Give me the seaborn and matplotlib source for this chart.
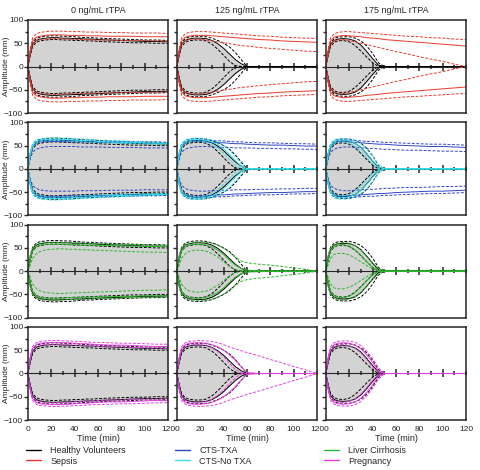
import numpy as np
import pandas as pd
import matplotlib
matplotlib.use("Agg")
import matplotlib.pyplot as plt
from matplotlib.lines import Line2D
from matplotlib.ticker import MultipleLocator
import seaborn as sns

# time points (min)
T = [0, 2, 4, 7, 10, 15, 20, 25, 30, 35, 40, 45, 50, 55, 60, 70, 80, 90, 100, 110, 120]

concs = ["0 ng/mL rTPA", "125 ng/mL rTPA", "175 ng/mL rTPA"]

# healthy volunteers (reference, grey)
hv0_mid = [0, 30, 48, 56, 59, 61, 62, 62, 61, 61, 60, 60, 59, 59, 58, 57, 56, 55, 54, 54, 53]
hv0_lo = [0, 24, 43, 52, 55, 57, 58, 58, 57, 57, 56, 56, 55, 55, 54, 53, 52, 51, 51, 50, 50]
hv0_hi = [0, 34, 52, 60, 63, 65, 66, 66, 65, 65, 64, 63, 62, 62, 61, 60, 59, 58, 57, 57, 56]
hv125_mid = [0, 30, 48, 56, 59, 61, 61, 60, 56, 49, 39, 27, 15, 6, 0, 0, 0, 0, 0, 0, 0]
hv125_lo = [0, 24, 43, 52, 55, 57, 57, 55, 48, 37, 24, 11, 2, 0, 0, 0, 0, 0, 0, 0, 0]
hv125_hi = [0, 34, 52, 60, 63, 65, 65, 64, 61, 56, 50, 42, 30, 15, 0, 0, 0, 0, 0, 0, 0]
hv175_mid = [0, 30, 48, 56, 59, 60, 59, 55, 46, 32, 17, 3, 0, 0, 0, 0, 0, 0, 0, 0, 0]
hv175_lo = [0, 24, 43, 52, 55, 56, 53, 45, 33, 20, 8, 0, 0, 0, 0, 0, 0, 0, 0, 0, 0]
hv175_hi = [0, 34, 52, 60, 63, 64, 64, 61, 55, 44, 28, 8, 0, 0, 0, 0, 0, 0, 0, 0, 0]

# sepsis
sep0_hi = [0, 40, 62, 70, 73, 75, 76, 76, 76, 75, 75, 75, 74, 74, 74, 73, 73, 72, 72, 72, 71]
sep0_mid = [0, 35, 55, 63, 65, 67, 68, 68, 68, 67, 67, 67, 66, 66, 66, 65, 65, 65, 64, 64, 64]
sep0_lo = [0, 28, 47, 55, 58, 59, 60, 60, 59, 59, 58, 58, 58, 57, 57, 57, 56, 56, 56, 55, 55]
sep125_hi = [0, 40, 62, 70, 73, 75, 75, 75, 74, 73, 72, 71, 70, 69, 68, 66, 65, 63, 62, 61, 60]
sep125_mid = [0, 35, 55, 63, 65, 67, 67, 67, 66, 65, 64, 63, 62, 61, 60, 58, 57, 55, 54, 53, 52]
sep125_lo = [0, 28, 47, 55, 58, 59, 59, 57, 55, 53, 51, 49, 47, 45, 44, 41, 39, 37, 35, 33, 32]
sep175_hi = [0, 40, 62, 70, 73, 75, 75, 74, 73, 72, 71, 70, 69, 68, 67, 65, 64, 62, 61, 59, 58]
sep175_mid = [0, 35, 55, 63, 65, 67, 66, 65, 64, 62, 61, 60, 58, 57, 56, 54, 52, 50, 48, 46, 44]
sep175_lo = [0, 28, 47, 55, 57, 58, 56, 53, 50, 47, 44, 41, 38, 35, 32, 27, 21, 16, 11, 5, 0]

# CTS-TXA
txa0_hi = [0, 34, 52, 59, 61, 62, 62, 62, 62, 61, 61, 61, 60, 60, 60, 59, 59, 58, 58, 58, 57]
txa0_mid = [0, 30, 48, 55, 58, 59, 59, 59, 59, 58, 58, 58, 58, 57, 57, 57, 56, 56, 56, 55, 55]
txa0_lo = [0, 22, 36, 42, 45, 47, 48, 48, 48, 48, 48, 47, 47, 47, 47, 46, 46, 46, 45, 45, 45]
txa125_hi = [0, 34, 52, 59, 61, 62, 62, 62, 61, 60, 60, 59, 58, 58, 57, 56, 56, 55, 54, 54, 53]
txa125_mid = [0, 30, 48, 55, 58, 59, 59, 58, 57, 56, 56, 55, 54, 54, 53, 52, 51, 51, 50, 49, 49]
txa125_lo = [0, 22, 36, 42, 45, 47, 48, 48, 47, 47, 46, 46, 45, 45, 45, 44, 44, 43, 43, 42, 42]
txa175_hi = [0, 34, 52, 59, 61, 62, 62, 61, 60, 59, 59, 58, 57, 57, 56, 55, 54, 53, 53, 52, 51]
txa175_mid = [0, 30, 48, 55, 58, 59, 58, 57, 56, 55, 54, 53, 53, 52, 51, 50, 49, 48, 48, 47, 46]
txa175_lo = [0, 22, 36, 42, 45, 47, 47, 46, 45, 44, 44, 43, 42, 42, 41, 40, 40, 39, 38, 38, 37]

# CTS-No TXA
notxa0_hi = [0, 36, 55, 62, 65, 66, 67, 67, 66, 66, 65, 64, 64, 63, 62, 61, 60, 59, 58, 57, 56]
notxa0_mid = [0, 32, 51, 59, 62, 63, 64, 64, 63, 63, 62, 61, 61, 60, 59, 58, 57, 57, 56, 55, 55]
notxa0_lo = [0, 28, 47, 55, 58, 60, 61, 61, 60, 60, 59, 58, 58, 57, 56, 56, 55, 54, 54, 53, 53]
notxa125_hi = [0, 36, 55, 62, 65, 66, 66, 64, 62, 58, 51, 40, 26, 12, 0, 0, 0, 0, 0, 0, 0]
notxa125_mid = [0, 32, 51, 59, 62, 63, 63, 61, 58, 52, 43, 31, 18, 6, 0, 0, 0, 0, 0, 0, 0]
notxa125_lo = [0, 28, 47, 55, 58, 60, 60, 57, 52, 44, 33, 20, 8, 1, 0, 0, 0, 0, 0, 0, 0]
notxa175_hi = [0, 36, 55, 62, 65, 65, 64, 60, 53, 42, 27, 9, 0, 0, 0, 0, 0, 0, 0, 0, 0]
notxa175_mid = [0, 32, 51, 59, 62, 62, 60, 55, 46, 33, 18, 4, 0, 0, 0, 0, 0, 0, 0, 0, 0]
notxa175_lo = [0, 28, 47, 55, 58, 58, 55, 48, 37, 23, 10, 1, 0, 0, 0, 0, 0, 0, 0, 0, 0]

# liver cirrhosis
liv0_hi = [0, 30, 50, 57, 60, 62, 62, 62, 62, 61, 61, 60, 60, 59, 59, 58, 58, 57, 57, 56, 56]
liv0_mid = [0, 24, 44, 52, 56, 58, 58, 58, 58, 57, 57, 56, 56, 56, 55, 55, 54, 54, 53, 53, 53]
liv0_lo = [0, 14, 28, 37, 42, 46, 47, 48, 48, 47, 47, 46, 46, 45, 45, 44, 43, 42, 41, 41, 40]
liv125_hi = [0, 30, 50, 57, 60, 62, 63, 62, 60, 56, 49, 40, 30, 22, 18, 15, 13, 10, 7, 4, 0]
liv125_mid = [0, 24, 44, 52, 56, 58, 58, 56, 52, 45, 36, 24, 13, 6, 2, 1, 0, 0, 0, 0, 0]
liv125_lo = [0, 14, 28, 37, 42, 45, 45, 43, 38, 30, 20, 10, 3, 0, 0, 0, 0, 0, 0, 0, 0]
liv175_hi = [0, 30, 50, 57, 60, 62, 60, 55, 45, 32, 18, 6, 0, 0, 0, 0, 0, 0, 0, 0, 0]
liv175_mid = [0, 24, 44, 52, 56, 57, 54, 46, 34, 20, 8, 1, 0, 0, 0, 0, 0, 0, 0, 0, 0]
liv175_lo = [0, 14, 28, 36, 38, 38, 35, 28, 20, 12, 5, 1, 0, 0, 0, 0, 0, 0, 0, 0, 0]

# pregnancy
preg0_hi = [0, 38, 58, 66, 69, 70, 71, 71, 70, 70, 69, 69, 68, 67, 67, 66, 65, 65, 64, 63, 63]
preg0_mid = [0, 34, 54, 62, 65, 66, 67, 67, 66, 66, 65, 64, 64, 63, 62, 61, 61, 60, 59, 58, 58]
preg0_lo = [0, 30, 50, 58, 61, 62, 63, 63, 62, 62, 61, 60, 60, 59, 58, 57, 57, 56, 55, 55, 54]
preg125_hi = [0, 38, 58, 66, 69, 70, 71, 70, 69, 66, 62, 57, 53, 49, 45, 38, 30, 23, 15, 8, 0]
preg125_mid = [0, 34, 54, 62, 65, 66, 66, 65, 62, 57, 50, 40, 28, 14, 2, 0, 0, 0, 0, 0, 0]
preg125_lo = [0, 30, 50, 58, 61, 62, 62, 60, 55, 47, 36, 22, 9, 1, 0, 0, 0, 0, 0, 0, 0]
preg175_hi = [0, 38, 58, 66, 69, 70, 70, 67, 60, 48, 32, 12, 0, 0, 0, 0, 0, 0, 0, 0, 0]
preg175_mid = [0, 34, 54, 62, 65, 66, 65, 61, 53, 40, 24, 6, 0, 0, 0, 0, 0, 0, 0, 0, 0]
preg175_lo = [0, 30, 50, 58, 61, 62, 60, 54, 44, 30, 14, 2, 0, 0, 0, 0, 0, 0, 0, 0, 0]

colors = {
    "Healthy Volunteers": "#000000",
    "Sepsis": "#e8392c",
    "CTS-TXA": "#2f45c8",
    "CTS-No TXA": "#35e0e8",
    "Liver Cirrhosis": "#2cb82c",
    "Pregnancy": "#e43de4",
}

healthy = [(hv0_lo, hv0_mid, hv0_hi), (hv125_lo, hv125_mid, hv125_hi), (hv175_lo, hv175_mid, hv175_hi)]
rows = [
    {"Sepsis": [(sep0_lo, sep0_mid, sep0_hi), (sep125_lo, sep125_mid, sep125_hi), (sep175_lo, sep175_mid, sep175_hi)]},
    {"CTS-TXA": [(txa0_lo, txa0_mid, txa0_hi), (txa125_lo, txa125_mid, txa125_hi), (txa175_lo, txa175_mid, txa175_hi)],
     "CTS-No TXA": [(notxa0_lo, notxa0_mid, notxa0_hi), (notxa125_lo, notxa125_mid, notxa125_hi), (notxa175_lo, notxa175_mid, notxa175_hi)]},
    {"Liver Cirrhosis": [(liv0_lo, liv0_mid, liv0_hi), (liv125_lo, liv125_mid, liv125_hi), (liv175_lo, liv175_mid, liv175_hi)]},
    {"Pregnancy": [(preg0_lo, preg0_mid, preg0_hi), (preg125_lo, preg125_mid, preg125_hi), (preg175_lo, preg175_mid, preg175_hi)]},
]

sns.set_style("ticks")
plt.rcParams["font.family"] = ["Liberation Sans", "DejaVu Sans"]
plt.rcParams["font.size"] = 6

fig, axes = plt.subplots(4, 3, figsize=(4.81, 4.70), dpi=100)
fig.subplots_adjust(left=28 / 481, right=466 / 481, top=1 - 20 / 470, bottom=1 - 420 / 470,
                    wspace=0.064, hspace=0.1)


def draw_set(ax, curves, color, lw=0.7):
    lo, mid, hi = curves
    for sgn in (1, -1):
        for vals, ls in ((lo, (0, (3, 1.6))), (hi, (0, (3, 1.6))), (mid, "-")):
            sns.lineplot(x=T, y=np.array(vals) * sgn, ax=ax, color=color,
                         linestyle=ls, linewidth=lw, legend=False)


for r, groups in enumerate(rows):
    for c in range(3):
        ax = axes[r, c]
        lo, mid, hi = healthy[c]
        ax.fill_between(T, -np.array(mid), mid, color="#d3d3d3", lw=0, zorder=0)
        draw_set(ax, healthy[c], "black")
        for name, sets in groups.items():
            draw_set(ax, sets[c], colors[name])

        ax.set_xlim(0, 120)
        ax.set_ylim(-100, 100)
        ax.set_xlabel("")
        ax.set_ylabel("")
        ax.yaxis.set_major_locator(MultipleLocator(50))
        ax.yaxis.set_minor_locator(MultipleLocator(25))
        ax.tick_params(axis="y", which="major", length=3, width=1, pad=0.5, labelsize=6)
        ax.tick_params(axis="y", which="minor", length=2, width=1)
        ax.set_xticks(range(0, 121, 20))
        ax.tick_params(axis="x", length=0, pad=4, labelsize=6)
        if c > 0:
            ax.tick_params(axis="y", labelleft=False)
        else:
            ax.set_ylabel("Amplitude (mm)", fontsize=6)
            ax.yaxis.set_label_coords(-0.13, 0.5)
        if r < 3:
            ax.tick_params(axis="x", labelbottom=False)
        else:
            ax.set_xlabel("Time (min)", fontsize=6.5, labelpad=1)
        if r == 0:
            ax.set_title(concs[c], fontsize=6.5, pad=5)
        for s in ax.spines.values():
            s.set_linewidth(1.1)
            s.set_visible(True)

        # zero line with time ticks
        sec = ax.secondary_xaxis(0.5)
        sec.set_xticks(range(20, 120, 20))
        sec.xaxis.set_minor_locator(MultipleLocator(10))
        sec.tick_params(which="major", direction="inout", length=5.5, width=1.1, labelbottom=False, labeltop=False)
        sec.tick_params(which="minor", direction="inout", length=3.5, width=1.1)
        sec.spines["bottom"].set_linewidth(1.3)

# legend: three columns aligned with the panel columns
names = list(colors.keys())
for k, x0 in enumerate([24, 173, 322]):
    pair = names[2 * k:2 * k + 2]
    handles = [Line2D([], [], color=colors[n], lw=1) for n in pair]
    fig.legend(handles, pair, loc="upper left", bbox_to_anchor=(x0 / 481, 1 - 444 / 470),
               frameon=False, fontsize=6.5, handlelength=1.7, handletextpad=1.0,
               labelspacing=0.2, borderaxespad=0, borderpad=0.2)

fig.savefig("out.png", dpi=100)
